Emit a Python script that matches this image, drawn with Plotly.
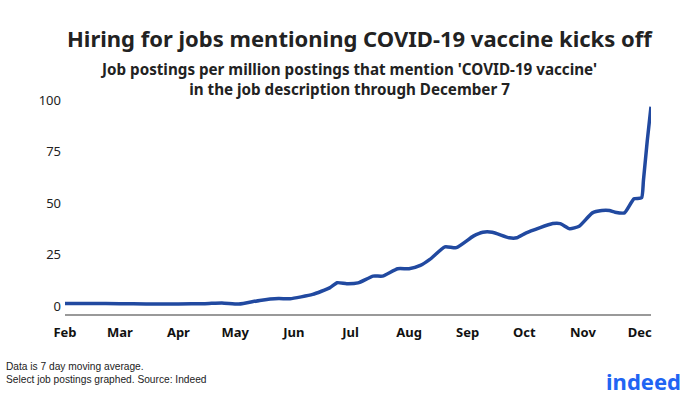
import plotly.graph_objects as go

dates = ["2020-02-01", "2020-02-15", "2020-03-01", "2020-03-15", "2020-04-01", "2020-04-15",
         "2020-04-24", "2020-05-03", "2020-05-14", "2020-05-24", "2020-05-30", "2020-06-11",
         "2020-06-20", "2020-06-24", "2020-06-29", "2020-07-05", "2020-07-13", "2020-07-18",
         "2020-07-26", "2020-08-01", "2020-08-07", "2020-08-12", "2020-08-20", "2020-08-26",
         "2020-09-04", "2020-09-09", "2020-09-14", "2020-09-23", "2020-09-27", "2020-10-02",
         "2020-10-16", "2020-10-20", "2020-10-25", "2020-10-30", "2020-11-06", "2020-11-11",
         "2020-11-15", "2020-11-18", "2020-11-23", "2020-11-28", "2020-12-02", "2020-12-03",
         "2020-12-05", "2020-12-07"]
values = [1.2, 1.2, 1.1, 1.0, 1.0, 1.1,
          1.5, 0.9, 2.7, 3.6, 3.5, 5.6,
          8.8, 11.3, 10.8, 11.2, 14.5, 14.5,
          18.1, 18.1, 19.7, 22.6, 28.7, 28.3,
          33.9, 35.8, 35.8, 33.1, 33.1, 35.5,
          40.0, 40.0, 37.5, 38.7, 45.2, 46.3,
          46.3, 45.5, 45.2, 52.0, 52.5, 61.0,
          80.0, 96.7]

month_ticks = ["2020-02-01", "2020-03-01", "2020-04-01", "2020-05-01", "2020-06-01", "2020-07-01",
               "2020-08-01", "2020-09-01", "2020-10-01", "2020-11-01", "2020-12-01"]
month_labels = ["Feb", "Mar", "Apr", "May", "Jun", "Jul", "Aug", "Sep", "Oct", "Nov", "Dec"]
y_ticks = [0, 25, 50, 75, 100]

title = "Hiring for jobs mentioning COVID-19 vaccine kicks off"
subtitle = "Job postings per million postings that mention 'COVID-19 vaccine'<br>in the job description through December 7"
footer = "Data is 7 day moving average.<br>Select job postings graphed. Source: Indeed"
logo = "indeed"

W, H = 700, 398
ML, MR, MT, MB = 65, 49, 100, 84

fig = go.Figure()
fig.add_trace(go.Scatter(
    x=dates, y=values, mode="lines",
    line=dict(color="#2149a0", width=3.5, shape="spline", smoothing=0.5),
    hoverinfo="skip", showlegend=False,
))

def px(x):
    return (x - ML) / (W - ML - MR)

def py(y):
    return (H - MB - y) / (H - MT - MB)

fig.update_layout(
    width=W, height=H,
    paper_bgcolor="white", plot_bgcolor="white",
    margin=dict(l=ML, r=MR, t=MT, b=MB, autoexpand=False),
    font=dict(family="Noto Sans", color="#222"),
    xaxis=dict(
        range=["2020-02-01", "2020-12-07"],
        tickvals=month_ticks, ticktext=month_labels,
        tickfont=dict(family="Noto Sans", size=13, color="#111", weight="bold"),
        showgrid=False, zeroline=False,
        showline=True, linecolor="#999", linewidth=1.5,
        ticks="", ticklabelstandoff=6,
    ),
    yaxis=dict(
        range=[-3.9, 100],
        tickvals=y_ticks,
        tickfont=dict(family="Noto Sans", size=13, color="#222"),
        showgrid=False, zeroline=False, showline=False,
        ticks="", ticklabelstandoff=3,
    ),
    annotations=[
        dict(text="<b>" + title + "</b>", x=px(360), y=py(38), xref="paper", yref="paper",
             showarrow=False, font=dict(size=22, color="#222", family="Noto Sans"),
             xanchor="center", yanchor="middle"),
        dict(text="<b>" + subtitle + "</b>", x=px(348.5), y=py(79), xref="paper", yref="paper",
             showarrow=False, font=dict(size=15.2, color="#222", family="Noto Sans"),
             xanchor="center", yanchor="middle"),
        dict(text=footer, x=px(4), y=py(373), xref="paper", yref="paper", showarrow=False,
             align="left", font=dict(size=10.2, color="#222", family="Liberation Sans"),
             xanchor="left", yanchor="middle"),
        dict(text="<b>" + logo + "</b>", x=px(643), y=py(381), xref="paper", yref="paper",
             showarrow=False, font=dict(size=22, color="#2164f3", family="Noto Sans"),
             xanchor="center", yanchor="middle"),
    ],
)

fig.write_html("out.html", config={"displayModeBar": False},
               post_script="document.body.style.margin='0';")
